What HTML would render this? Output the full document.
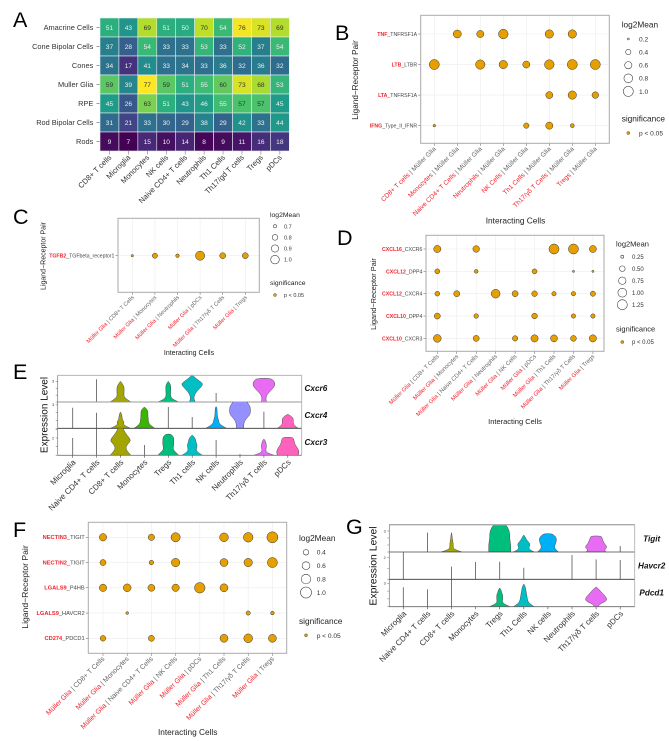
<!DOCTYPE html>
<html>
<head>
<meta charset="utf-8">
<title>Ligand-receptor interaction figure</title>
<style>
html,body{margin:0;padding:0;background:#fff;}
svg{display:block;font-family:"Liberation Sans",Arial,sans-serif;filter:blur(0.3px);}
.letter{font-size:21.5px;fill:#000;}
</style>
</head>
<body>
<svg id="figure" xmlns="http://www.w3.org/2000/svg" width="669" height="741" viewBox="0 0 669 741">
  <rect width="669" height="741" fill="#fff"/>
  <defs id="clips"></defs>

  <text class="letter" x="13" y="27">A</text>
  <text class="letter" x="335" y="40">B</text>
  <text class="letter" x="13" y="224">C</text>
  <text class="letter" x="337" y="245">D</text>
  <text class="letter" x="13" y="379">E</text>
  <text class="letter" x="13" y="537">F</text>
  <text class="letter" x="346" y="534">G</text>

  <g id="panel-a"></g>

  <g id="panel-b">
    <text transform="translate(358 80) rotate(-90)" text-anchor="middle" font-size="8.2" fill="#222">Ligand−Receptor Pair</text>
    <text x="515.5" y="223.5" text-anchor="middle" font-size="8.3" fill="#222">Interacting Cells</text>
    <text x="621.7" y="27.5" font-size="8.3" fill="#222">log2Mean</text>
    <text x="621.7" y="121.5" font-size="8.3" fill="#222">significance</text>
    <text x="639" y="135.5" font-size="6.6" fill="#333">p &lt; 0.05</text>
  </g>

  <g id="panel-c">
    <text transform="translate(45.5 256) rotate(-90)" text-anchor="middle" font-size="7" fill="#222">Ligand−Receptor Pair</text>
    <text x="189" y="355" text-anchor="middle" font-size="7" fill="#222">Interacting Cells</text>
    <text x="270" y="217" font-size="6.8" fill="#222">log2Mean</text>
    <text x="270" y="285" font-size="6.8" fill="#222">significance</text>
    <text x="284" y="297" font-size="5.5" fill="#333">p &lt; 0.05</text>
  </g>

  <g id="panel-d">
    <text transform="translate(376 294) rotate(-90)" text-anchor="middle" font-size="7.4" fill="#222">Ligand−Receptor Pair</text>
    <text x="515" y="424" text-anchor="middle" font-size="7.5" fill="#222">Interacting Cells</text>
    <text x="616" y="246.5" font-size="7.5" fill="#222">log2Mean</text>
    <text x="616" y="331.5" font-size="7.5" fill="#222">significance</text>
    <text x="632" y="344" font-size="6" fill="#333">p &lt; 0.05</text>
  </g>

  <g id="panel-e">
    <text transform="translate(47.5 415) rotate(-90)" text-anchor="middle" font-size="10" fill="#111">Expression Level</text>
    <text x="304.5" y="391" font-size="8.2" font-weight="bold" font-style="italic" fill="#111">Cxcr6</text>
    <text x="304.5" y="418" font-size="8.2" font-weight="bold" font-style="italic" fill="#111">Cxcr4</text>
    <text x="304.5" y="445" font-size="8.2" font-weight="bold" font-style="italic" fill="#111">Cxcr3</text>
  </g>

  <g id="panel-f">
    <text transform="translate(28 587) rotate(-90)" text-anchor="middle" font-size="8.6" fill="#222">Ligand−Receptor Pair</text>
    <text x="187.7" y="735" text-anchor="middle" font-size="8.3" fill="#222">Interacting Cells</text>
    <text x="299" y="541" font-size="8.3" fill="#222">log2Mean</text>
    <text x="299" y="624" font-size="8.3" fill="#222">significance</text>
    <text x="316.7" y="638" font-size="6.6" fill="#333">p &lt; 0.05</text>
  </g>

  <g id="panel-g">
    <text transform="translate(376.5 566) rotate(-90)" text-anchor="middle" font-size="10.4" fill="#111">Expression Level</text>
    <text x="651.7" y="541.5" text-anchor="middle" font-size="8.2" font-weight="bold" font-style="italic" fill="#111">Tigit</text>
    <text x="651.7" y="568.5" text-anchor="middle" font-size="8.2" font-weight="bold" font-style="italic" fill="#111">Havcr2</text>
    <text x="651.7" y="595.5" text-anchor="middle" font-size="8.2" font-weight="bold" font-style="italic" fill="#111">Pdcd1</text>
  </g>
</svg>

<script>
/* ---------- Panel A data ---------- */
const heatRows = ["Amacrine Cells","Cone Bipolar Cells","Cones","Muller Glia","RPE","Rod Bipolar Cells","Rods"];
const heatCols = ["CD8+ T cells","Microglia","Monocytes","NK cells","Naive CD4+ T cells","Neutrophils","Th1 Cells","Th17/gd T cells","Tregs","pDCs"];
const heatAmacrine = [51,43,69,51,50,70,54,76,73,69];
const heatConeBipolar = [37,28,54,33,33,53,33,52,37,54];
const heatCones = [34,17,41,33,34,33,36,32,36,32];
const heatMuller = [59,39,77,59,51,55,60,73,68,53];
const heatRPE = [45,26,63,51,43,46,55,57,57,45];
const heatRodBipolar = [31,21,33,30,29,38,29,42,33,44];
const heatRods = [9,7,15,10,14,8,9,11,16,18];

/* ---------- Panel B data ---------- */
const bLigands = ["TNF","LTB","LTA","IFNG"];
const bReceptors = ["_TNFRSF1A","_LTBR","_TNFRSF1A","_Type_II_IFNR"];
const bCells = ["CD8+ T cells","Monocytes","Naive CD4+ T Cells","Neutrophils","NK Cells","Th1 Cells","Th17/γδ T Cells","Tregs"];
const bTNF = [null,.70,.60,.93,null,.75,.75,null];
const bLTB = [1.0,null,.90,.75,.58,.93,1.0,1.0];
const bLTA = [null,null,null,null,null,.58,.75,.53];
const bIFNG = [.226,null,null,null,.41,.60,.30,null];
const bLegend = [0.2,0.4,0.6,0.8,1.0];

/* ---------- Panel C data ---------- */
const cLigands = ["TGFB2"];
const cReceptors = ["_TGFbeta_receptor1"];
const cCells = ["CD8+ T Cells","Monocytes","Neutrophils","pDCs","Th17/γδ T Cells","Tregs"];
const cTGFB2 = [.677,.778,.711,1.05,.82,.82];
const cLegend = [0.7,0.8,0.9,1.0];

/* ---------- Panel D data ---------- */
const dLigands = ["CXCL16","CXCL12","CXCL12","CXCL10","CXCL10"];
const dReceptors = ["_CXCR6","_DPP4","_CXCR4","_DPP4","_CXCR3"];
const dCells = ["CD8+ T Cells","Monocytes","Naive CD4+ T Cells","Neutrophils","NK Cells","pDCs","Th1 Cells","Th17/γδ T Cells","Tregs"];
const dCXCL16 = [.72,null,.63,null,null,null,1.25,1.25,.69];
const dCXCL12a = [.42,null,.31,null,null,.42,null,.20,.20];
const dCXCL12b = [.40,.55,null,1.0,.55,.50,.36,.36,.45];
const dCXCL10a = [.55,null,.38,null,null,.50,null,.36,.36];
const dCXCL10b = [.82,null,.55,null,.47,.72,.69,.52,.72];
const dLegend = [0.25,0.50,0.75,1.00,1.25];

/* ---------- Panel F data ---------- */
const fLigands = ["NECTIN3","NECTIN2","LGALS9","LGALS9","CD274"];
const fReceptors = ["_TIGIT","_TIGIT","_P4HB","_HAVCR2","_PDCD1"];
const fCells = ["CD8+ T Cells","Monocytes","Naive CD4+ T Cells","NK Cells","pDCs","Th1 Cells","Th17/γδ T Cells","Tregs"];
const fNECTIN3 = [.56,null,.47,.76,null,.71,.81,1.0];
const fNECTIN2 = [.44,null,.34,.67,null,.62,.67,.86];
const fP4HB = [.56,.60,.52,.56,.94,.62,null,null];
const fHAVCR2 = [null,.25,null,null,null,null,.32,.29];
const fCD274 = [.41,null,.44,null,null,.62,.71,.62];
const fLegend = [0.4,0.6,0.8,1.0];

/* ---------- Violin data: peak expression per cell, then width profile per cell ---------- */
const violinCells = ["Microglia","Naive CD4+ T cells","CD8+ T cells","Monocytes","Tregs","Th1 cells","NK cells","Neutrophils","Th17/γδ T cells","pDCs"];
const gViolinCells = ["Microglia","Naive CD4+ T cells","CD8+ T cells","Monocytes","Tregs","Th1 Cells","NK cells","Neutrophils","Th17/γδ T cells","pDCs"];
const eCxcr6Peak = [null,3.3,3.0,null,3.0,3.95,1.3,null,3.43,null];
const eCxcr4Peak = [2.64,2.0,2.09,2.73,2.73,1.45,2.76,3.6,2.13,1.8];
const eCxcr3Peak = [2.0,3.3,3.4,1.19,2.46,2.35,1.77,.15,1.88,2.08];
const eCxcr6Shape = [null,null,[10.5,6.5,3.6,3.4,3.6,3.6,3.4,2,0],null,[10.5,4.5,2.5,2.2,2.4,2.5,2.5,1.9,0],[3,1.6,2,3.5,6,9,11,7,3,0],null,null,[2.5,2,2.2,3.5,6,8.5,10.5,11,10,7],null];
const eCxcr4Shape = [null,null,[10,5.5,2.8,3.7,2.2,1.6,1.5,1,0],[10.5,6.5,4.2,4,3.7,3.5,3.5,3,0],null,null,[10.5,5.5,2.8,2.5,1.6,1.2,1,1,.5],[3.6,3.6,4.2,6,9,10.5,10.5,10,8,6],null,[10.5,8,6,5.5,5.5,5.5,5,3,0]];
const eCxcr3Shape = [null,null,[10.5,7,5,7,10.5,8,5,3,1.5],null,[10.5,8,5,5,5.5,5.5,5.5,5,2.5],[10.5,6,4,4.5,5,4,3.5,2.5,0],null,null,[10.5,4,2,2,2.5,2.5,2,1.5,0],[10.5,11,11,10,8.5,7,6.5,6,5]];
const gTigitPeak = [null,2.76,2.76,null,4.0,2.43,2.62,null,2.29,.86];
const gHavcr2Peak = [2.5,null,1.17,1.6,1.63,1.07,null,2.25,1.85,1.79];
const gPdcd1Peak = [2.49,2.23,3.5,null,2.4,2.91,null,null,2.53,null];
const gTigitShape = [null,null,[10.5,3,1.5,1.8,1.5,1,.7,.5,0],null,[11,11,11,10.5,10,10,9.5,8,5.5],[10.5,6,5,6,6,4,2.5,1.5,0],[10.5,8,6.5,7,8,8.5,8.5,7,4],null,[10,8,10.5,10.5,8.5,7.5,6.5,6,5],null];
const gHavcr2Shape = [null,null,null,null,null,null,null,null,null,null];
const gPdcd1Shape = [null,null,null,null,[10.5,5,2.5,3,3,3,2,1.5,0],[10.5,6,4,3.5,3,2.5,2,1.5,0],null,null,[2,3,9,11,9.5,7.5,5,3,0],null];

const violinColors = ["#F8766D","#D89000","#A3A500","#39B600","#00BF7D","#00BFC4","#00B0F6","#9590FF","#E76BF3","#FF62BC"];
const SVGNS = "http://www.w3.org/2000/svg";

function mk(parent, tag, attrs, name, interactable) {
  const el = document.createElementNS(SVGNS, tag);
  for (const k in attrs) el.setAttribute(k, attrs[k]);
  
  
  parent.appendChild(el);
  return el;
}
function slug(s) { return String(s).toLowerCase().replace(/[^a-z0-9]+/g, '-').replace(/^-|-$/g, ''); }

/* viridis */
const viridisStops = ["#440154","#482475","#414487","#355f8d","#2a788e","#21918c","#22a884","#44bf70","#7ad151","#bddf26","#fde725"];
function hex(c) { return [1,3,5].map(i => parseInt(c.substr(i,2),16)); }
function viridis(t) {
  t = Math.max(0, Math.min(1, t));
  const p = t * (viridisStops.length - 1), i = Math.min(Math.floor(p), viridisStops.length - 2), f = p - i;
  const a = hex(viridisStops[i]), b = hex(viridisStops[i+1]);
  return "rgb(" + a.map((v,k) => Math.round(v + (b[k]-v)*f)).join(",") + ")";
}

/* ---------- Heatmap ---------- */
(function drawHeatmap() {
  const root = document.getElementById('panel-a');
  const matrix = [heatAmacrine,heatConeBipolar,heatCones,heatMuller,heatRPE,heatRodBipolar,heatRods];
  const x0 = 100, y0 = 18, cw = 18.93, ch = 19;
  const all = matrix.flat(), lo = Math.min(...all), hi = Math.max(...all);
  const colX = i => x0 + i * cw;
  const rowY = j => y0 + j * ch;
  matrix.forEach((row, j) => {
    row.forEach((v, i) => {
      mk(root, 'rect', {x: colX(i), y: rowY(j), width: cw, height: ch, fill: viridis((v-lo)/(hi-lo)), stroke: '#e8eef0', 'stroke-width': 0.6}, 'heatmap-cell', false);
      const t = mk(root, 'text', {x: colX(i)+cw/2, y: rowY(j)+ch/2+2.3, 'text-anchor': 'middle', 'font-size': 6.6, fill: v >= 57 ? '#333' : '#eee'}, 'heatmap-value', false);
      t.textContent = v;
    });
  });
  heatRows.forEach((r, j) => {
    const y = rowY(j) + ch/2;
    mk(root, 'line', {x1: 96.5, x2: 99.5, y1: y, y2: y, stroke: '#555', 'stroke-width': 0.6}, 'y-tick', false);
    const t = mk(root, 'text', {x: 93.3, y: y+2.4, 'text-anchor': 'end', 'font-size': 7.4, fill: '#333'}, 'row-label', false);
    t.textContent = r;
  });
  heatCols.forEach((c, i) => {
    const x = colX(i) + cw/2, b = y0 + 7*ch;
    mk(root, 'line', {x1: x, x2: x, y1: b, y2: b+3.5, stroke: '#777', 'stroke-width': 0.6}, 'x-tick', false);
    const t = mk(root, 'text', {transform: `translate(${x+2.5} ${b+7}) rotate(-45)`, 'text-anchor': 'end', 'font-size': 7.6, fill: '#333'}, 'column-label', false);
    t.textContent = c;
  });
})();

/* ---------- Dot plots ---------- */
function dotPlot(cfg) {
  const root = document.getElementById(cfg.id);
  const xPos = i => cfg.xStart + i * cfg.xStep;
  const yPos = j => cfg.yStart + j * cfg.yStep;
  const radius = v => cfg.k * Math.sqrt(Math.max(v - cfg.v0, 0.002));
  const frame = {x: cfg.left, y: cfg.top, width: cfg.right-cfg.left, height: cfg.bottom-cfg.top};
  mk(root, 'rect', Object.assign({fill: '#fff'}, frame), 'plot-background', false);
  cfg.cells.forEach((c, i) => {
    mk(root, 'line', {x1: xPos(i), x2: xPos(i), y1: cfg.top, y2: cfg.bottom, stroke: '#ececec', 'stroke-width': 0.6}, 'x-gridline', false);
    mk(root, 'line', {x1: xPos(i), x2: xPos(i), y1: cfg.bottom, y2: cfg.bottom+2.5, stroke: '#555', 'stroke-width': 0.5}, 'x-tick', false);
    const t = mk(root, 'text', {transform: `translate(${xPos(i)+cfg.lblDx} ${cfg.bottom+cfg.lblDy}) rotate(-45)`, 'text-anchor': 'end', 'font-size': cfg.xFont}, 'x-tick-label', false);
    const a = mk(t, 'tspan', {fill: '#f2222c'}, 'x-label-source', false);
    const b = mk(t, 'tspan', {fill: '#666'}, 'x-label-target', false);
    if (cfg.cellsFirst) { a.textContent = c; b.textContent = " | Müller Glia"; }
    else { a.textContent = "Müller Glia"; b.textContent = " | " + c; }
  });
  cfg.ligands.forEach((l, j) => {
    mk(root, 'line', {x1: cfg.left, x2: cfg.right, y1: yPos(j), y2: yPos(j), stroke: '#ececec', 'stroke-width': 0.6}, 'y-gridline', false);
    mk(root, 'line', {x1: cfg.left-2.5, x2: cfg.left, y1: yPos(j), y2: yPos(j), stroke: '#555', 'stroke-width': 0.5}, 'y-tick', false);
    const t = mk(root, 'text', {x: cfg.left-3.6, y: yPos(j)+1.9, 'text-anchor': 'end', 'font-size': cfg.yFont}, 'y-tick-label', false);
    const a = mk(t, 'tspan', {fill: '#f2222c', 'font-weight': 'bold'}, 'ligand-name', false);
    a.textContent = l;
    const b = mk(t, 'tspan', {fill: '#444'}, 'receptor-name', false);
    b.textContent = cfg.receptors[j];
  });
  mk(root, 'rect', Object.assign({fill: 'none', stroke: '#aaa', 'stroke-width': 1}, frame), 'plot-border', false);
  cfg.series.forEach((row, j) => {
    row.forEach((v, i) => {
      if (v === null) return;
      mk(root, 'circle', {cx: xPos(i), cy: yPos(j), r: radius(v), fill: '#E69F00', stroke: '#333', 'stroke-width': 0.5}, 'dot-' + slug(cfg.ligands[j] + cfg.receptors[j]) + '-' + slug(cfg.cells[i]), false);
    });
  });
  cfg.legend.forEach((v, n) => {
    const y = cfg.legY + n * cfg.legStep;
    mk(root, 'circle', {cx: cfg.legX, cy: y, r: radius(v), fill: '#fff', stroke: '#333', 'stroke-width': 0.55}, 'size-legend-key', false);
    const t = mk(root, 'text', {x: cfg.legTx, y: y + cfg.legFont*0.36, 'font-size': cfg.legFont, fill: '#333'}, 'size-legend-label', false);
    t.textContent = cfg.legDigits ? v.toFixed(cfg.legDigits) : v;
  });
  mk(root, 'circle', {cx: cfg.legX, cy: cfg.sigY, r: 1.5, fill: '#E69F00', stroke: '#333', 'stroke-width': 0.4}, 'significance-legend-key', false);
}

dotPlot({id:'panel-b', left:420.7, right:609.3, top:15.3, bottom:143.3, xStart:434.3, xStep:23, yStart:34, yStep:30.55,
  cells:bCells, cellsFirst:true, ligands:bLigands, receptors:bReceptors, series:[bTNF,bLTB,bLTA,bIFNG],
  k:5.5, v0:.17, xFont:6.6, yFont:5.2, lblDx:2, lblDy:6,
  legend:bLegend, legDigits:1, legX:628.3, legTx:639, legY:39, legStep:13.1, legFont:6.6, sigY:133});
dotPlot({id:'panel-c', left:118, right:259.3, top:218.3, bottom:292.3, xStart:132.3, xStep:22.6, yStart:255.7, yStep:0,
  cells:cCells, cellsFirst:false, ligands:cLigands, receptors:cReceptors, series:[cTGFB2],
  k:7.27, v0:.65, xFont:5.6, yFont:5.2, lblDx:2, lblDy:5.5,
  legend:cLegend, legDigits:1, legX:275, legTx:284, legY:226.3, legStep:11.1, legFont:5.5, sigY:295});
dotPlot({id:'panel-d', left:426, right:604, top:235.3, bottom:351.3, xStart:437.3, xStep:19.45, yStart:249, yStep:22.35,
  cells:dCells, cellsFirst:false, ligands:dLigands, receptors:dReceptors, series:[dCXCL16,dCXCL12a,dCXCL12b,dCXCL10a,dCXCL10b],
  k:4.77, v0:.15, xFont:5.9, yFont:5.2, lblDx:2, lblDy:5.5,
  legend:dLegend, legDigits:2, legX:622.3, legTx:632, legY:256.7, legStep:12, legFont:6, sigY:342});
dotPlot({id:'panel-f', left:88.3, right:286.7, top:522.3, bottom:653.3, xStart:103, xStep:24.2, yStart:537.3, yStep:25.25,
  cells:fCells, cellsFirst:false, ligands:fLigands, receptors:fReceptors, series:[fNECTIN3,fNECTIN2,fP4HB,fHAVCR2,fCD274],
  k:6.15, v0:.2, xFont:6.9, yFont:5.7, lblDx:2, lblDy:6,
  legend:fLegend, legDigits:1, legX:306, legTx:316.7, legY:552.3, legStep:13.4, legFont:6.6, sigY:635.3});

/* ---------- Violin plots ---------- */
function violinOutline(cx, base, top, widths) {
  const n = widths.length - 1;
  const pts = [];
  widths.forEach((w, i) => pts.push([cx + w, base + (top-base)*i/n]));
  for (let i = n; i >= 0; i--) pts.push([cx - widths[i], base + (top-base)*i/n]);
  let d = `M${pts[0][0].toFixed(2)} ${pts[0][1].toFixed(2)}`;
  for (let i = 1; i < pts.length - 1; i++) {
    const mx = (pts[i][0]+pts[i+1][0])/2, my = (pts[i][1]+pts[i+1][1])/2;
    d += `Q${pts[i][0].toFixed(2)} ${pts[i][1].toFixed(2)} ${mx.toFixed(2)} ${my.toFixed(2)}`;
  }
  d += `L${pts[pts.length-1][0].toFixed(2)} ${pts[pts.length-1][1].toFixed(2)}Z`;
  return d;
}
function violinPlot(cfg) {
  const root = document.getElementById(cfg.id);
  const defs = document.getElementById('clips');
  const xPos = i => cfg.xStart + i * cfg.xStep;
  cfg.rows.forEach((row, r) => {
    const yVal = v => row.base - v * row.unit;
    const cid = cfg.id + '-clip-' + r;
    const clip = mk(defs, 'clipPath', {id: cid}, 'row-clip', false);
    mk(clip, 'rect', {x: cfg.left, y: row.top, width: cfg.right-cfg.left, height: row.base-row.top}, 'row-clip-rect', false);
    const g = mk(root, 'g', {'clip-path': `url(#${cid})`}, 'gene-row-' + r, false);
    row.peak.forEach((p, i) => {
      if (p === null) return;
      const shape = row.shape[i];
      if (shape) {
        mk(g, 'path', {d: violinOutline(xPos(i), row.base, yVal(p), shape), fill: violinColors[i], stroke: '#4a4a4a', 'stroke-width': 0.5}, 'violin-' + slug(cfg.cells[i]), false);
      } else {
        mk(g, 'line', {x1: xPos(i), x2: xPos(i), y1: row.base, y2: yVal(p), stroke: '#555', 'stroke-width': 0.8}, 'violin-spike-' + slug(cfg.cells[i]), false);
      }
    });
    [0,1,2,3].forEach(v => {
      const y = yVal(v);
      if (y < row.top) return;
      mk(root, 'line', {x1: cfg.left-2, x2: cfg.left, y1: y, y2: y, stroke: '#666', 'stroke-width': 0.5}, 'y-tick', false);
    });
    const lab = mk(root, 'text', {x: cfg.left-3.6, y: yVal(row.label)+1.3, 'text-anchor': 'end', 'font-size': 3.8, fill: '#333'}, 'y-tick-label', false);
    lab.textContent = row.label;
    mk(root, 'line', {x1: cfg.left, x2: cfg.right, y1: row.base, y2: row.base, stroke: row.line, 'stroke-width': row.lineW}, 'row-divider', false);
  });
  const top = cfg.rows[0].top, bottom = cfg.rows[cfg.rows.length-1].base;
  mk(root, 'line', {x1: cfg.left, x2: cfg.right, y1: top, y2: top, stroke: '#aaa', 'stroke-width': cfg.topW}, 'plot-top-border', false);
  mk(root, 'line', {x1: cfg.left, x2: cfg.left, y1: top, y2: bottom, stroke: '#777', 'stroke-width': 0.7}, 'y-axis-line', false);
  mk(root, 'line', {x1: cfg.right, x2: cfg.right, y1: top, y2: bottom, stroke: '#aaa', 'stroke-width': 0.8}, 'plot-right-border', false);
  cfg.cells.forEach((c, i) => {
    mk(root, 'line', {x1: xPos(i), x2: xPos(i), y1: bottom, y2: bottom+2.5, stroke: '#444', 'stroke-width': 0.6}, 'x-tick', false);
    const t = mk(root, 'text', {transform: `translate(${xPos(i)+3.5} ${bottom+7.5}) rotate(-45)`, 'text-anchor': 'end', 'font-size': 8, fill: '#333'}, 'x-tick-label', false);
    t.textContent = c;
  });
}
violinPlot({id:'panel-e', cells:violinCells, left:57.7, right:301.7, xStart:72.7, xStep:23.9, topW:0.9, rows:[
  {top:375.3, base:402, unit:6.9, label:3, peak:eCxcr6Peak, shape:eCxcr6Shape, line:'#999', lineW:1.1},
  {top:402, base:428.3, unit:7.8, label:3, peak:eCxcr4Peak, shape:eCxcr4Shape, line:'#333', lineW:0.9},
  {top:428.3, base:455.3, unit:8.65, label:2, peak:eCxcr3Peak, shape:eCxcr3Shape, line:'#777', lineW:0.8}]});
violinPlot({id:'panel-g', cells:gViolinCells, left:389.3, right:634.7, xStart:403.3, xStep:24.1, topW:1.4, rows:[
  {top:524.7, base:552, unit:7, label:3, peak:gTigitPeak, shape:gTigitShape, line:'#444', lineW:0.8},
  {top:552, base:579.3, unit:10.8, label:2, peak:gHavcr2Peak, shape:gHavcr2Shape, line:'#333', lineW:0.8},
  {top:579.3, base:606.7, unit:7.8, label:3, peak:gPdcd1Peak, shape:gPdcd1Shape, line:'#666', lineW:0.8}]});
</script>
</body>
</html>
